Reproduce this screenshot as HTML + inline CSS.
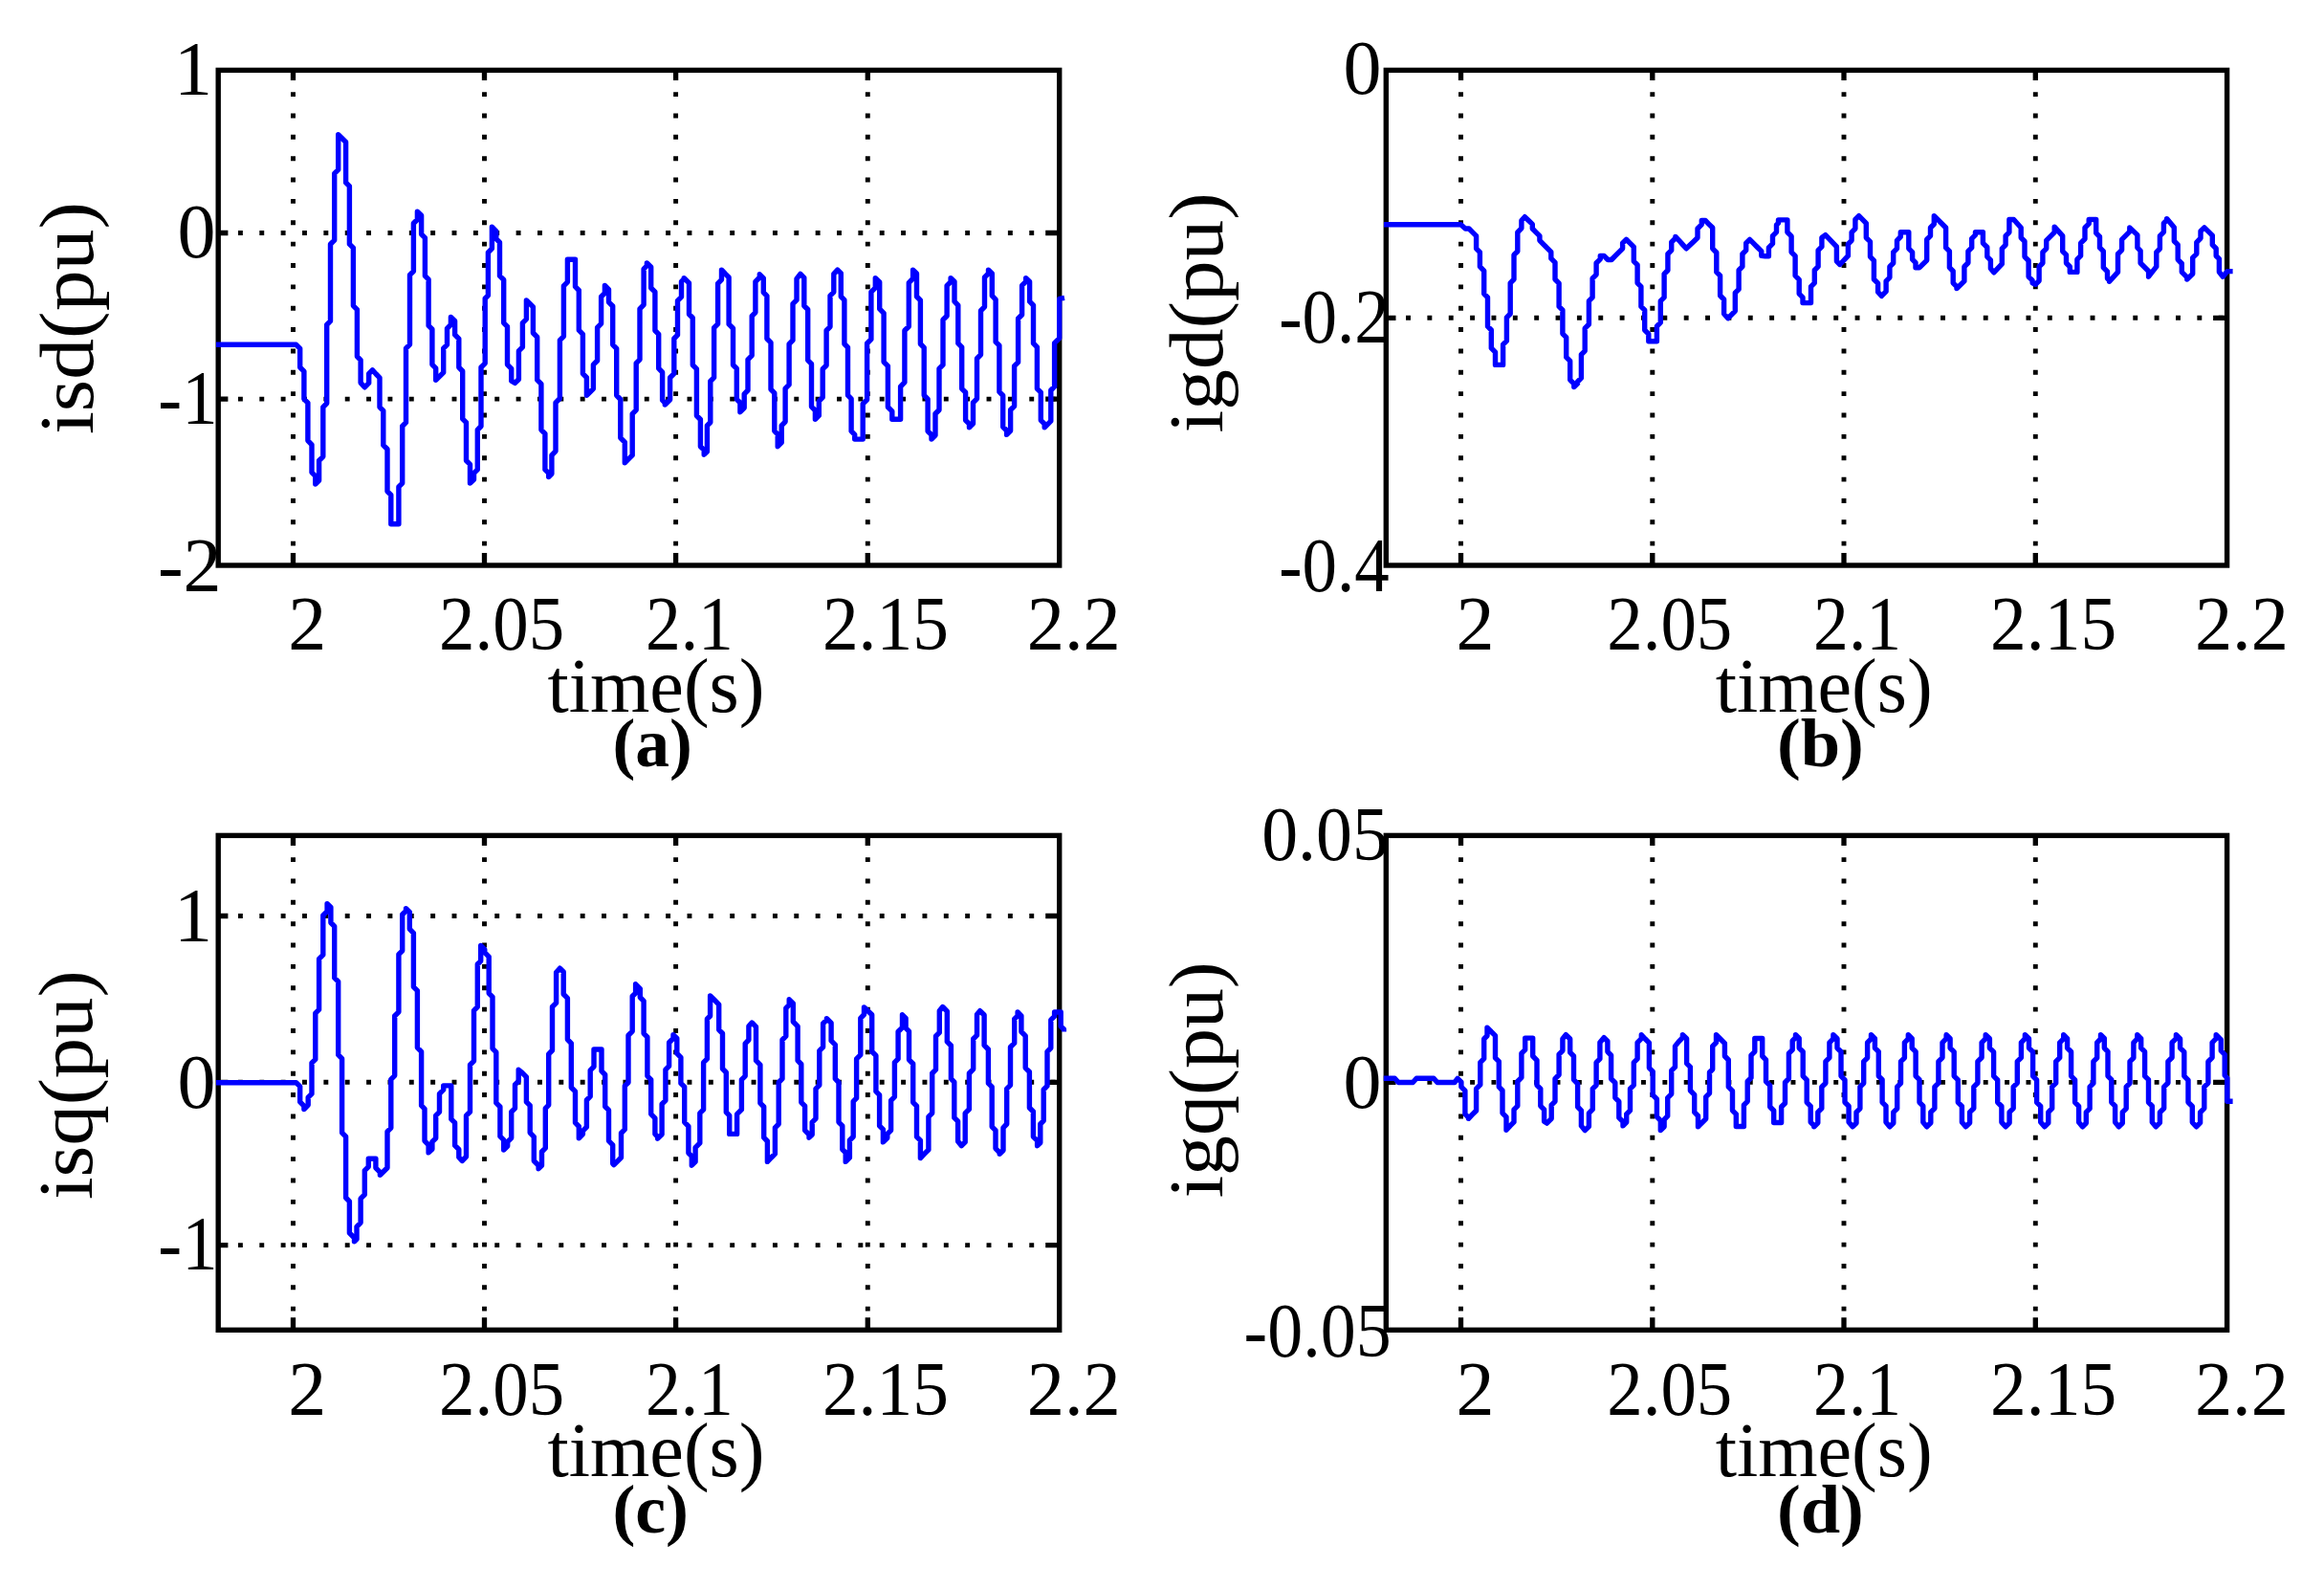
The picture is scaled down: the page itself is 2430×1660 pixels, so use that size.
<!DOCTYPE html><html><head><meta charset="utf-8"><title>dq currents</title>
<style>html,body{margin:0;padding:0;background:#fff}svg{display:block}text{font-family:"Liberation Serif","DejaVu Serif",serif;fill:#000}</style></head><body>
<svg width="2430" height="1660" viewBox="0 0 2430 1660">
<rect width="2430" height="1660" fill="#fff"/>
<g id="plot-a">
<path d="M306.5 98.6 V579.0 M506.5 98.6 V579.0 M706.6 98.6 V579.0 M907.3 98.6 V579.0 M251.4 243.5 H1104.7 M251.4 417.1 H1104.7" fill="none" stroke="#000" stroke-width="4.9" stroke-linecap="square" stroke-dasharray="0.01 22.35"/>
<path d="M306.5 73.4 v10.5 M306.5 591.0 v-13.0 M506.5 73.4 v10.5 M506.5 591.0 v-13.0 M706.6 73.4 v10.5 M706.6 591.0 v-13.0 M907.3 73.4 v10.5 M907.3 591.0 v-13.0 M228.2 243.5 h10.2 M1107.7 243.5 h-14.5 M228.2 417.1 h10.2 M1107.7 417.1 h-14.5" fill="none" stroke="#000" stroke-width="5.3"/>
<rect x="228.2" y="73.4" width="879.5" height="517.6" fill="none" stroke="#000" stroke-width="5.4"/>
<path d="M226.0 360.3L309.7 360.3L313.7 364.3V384.0L317.9 388.1V417.1L321.9 421.1V460.6L326.0 464.8V493.8L329.8 497.6V506.1L333.6 502.3V481.5L337.8 477.3V425.6L341.7 421.6V339.5L345.5 335.7V255.2L349.7 251.1V181.4L353.7 177.4V140.7L357.6 144.5L361.6 148.5V190.9L365.4 194.7V255.2L369.4 259.2V319.6L373.4 323.6V372.6L377.1 376.4V400.1L381.3 404.8L385.7 400.4V390.6L389.4 386.8L393.2 391.0L397.0 394.8V425.6L400.8 429.4V465.4L405.0 469.5V513.6L408.8 517.4V547.7L412.7 547.7H416.9V508.9L420.7 505.1V445.5L424.5 441.7V364.1L428.5 360.1V287.4L432.4 283.5V233.5L436.4 229.5V221.2L440.6 225.3V244.8L444.4 248.6V288.4L448.1 292.2V340.4L451.9 344.2V381.1L455.7 384.9V397.2L459.7 393.4L463.7 389.4V364.1L467.5 360.3V343.3L471.4 339.3V331.4L475.6 335.5V349.9L479.8 354.1V384.0L483.7 388.0V437.9L487.5 441.7V481.5L491.5 485.4V505.1L495.5 501.2V494.7L499.3 490.9V449.3L503.0 445.5V384.0L507.2 379.8V312.0L510.4 308.8V263.8L514.4 259.8V237.3L518.8 241.6V249.6L522.5 253.4V288.4L526.7 292.5V337.6L530.5 341.4V381.1L534.7 385.3V398.2L538.5 400.4L542.4 396.5V366.9L546.4 362.9V337.6L550.4 333.6V313.9L554.2 317.7L557.4 320.9V348.0L561.7 352.4V397.2L565.9 401.4V449.3L569.9 453.3V490.9L573.7 494.7V498.5L576.9 495.3V475.8L581.0 471.6V420.9L585.4 416.5V355.6L589.4 351.6V298.8L593.4 294.8V271.3L597.3 271.3H601.5V299.7L605.3 303.5V345.2L609.4 349.3V390.6L613.4 394.6V413.3L617.2 409.5L620.4 406.3V381.1L624.6 377.0V342.3L628.6 338.3V310.2L632.4 306.4V298.4L636.5 302.6V315.8L640.7 320.0V360.3L644.7 364.3V413.3L648.8 417.5V457.8L653.3 462.2V483.7L657.2 479.9L661.2 475.9V432.6L665.2 428.6V379.6L669.0 375.8V322.8L673.1 318.6V281.1L676.4 277.9V274.9L680.7 279.2V301.0L684.9 305.2V345.5L688.7 349.3V385.2L692.6 389.2V418.4L695.3 421.0V423.1L700.6 417.8V394.7L704.8 390.6V354.0L708.5 350.2V314.3L712.5 310.3V294.4L715.2 291.7V290.6L720.5 295.9V328.5L724.3 332.2V381.5L728.4 385.6V434.5L732.4 438.5V466.7L736.2 470.4V475.2L739.4 472.0V444.9L742.8 441.5V398.5L746.6 394.7V342.7L750.6 338.7V296.3L754.5 292.3V282.1L758.3 286.2L762.1 290.0V338.9L766.5 343.2V381.5L770.3 385.2V417.4L773.9 421.0V430.7L778.2 426.3V411.8L782.0 408.0V375.8L786.2 371.6V330.3L789.9 326.6V294.4L794.3 290.0V286.8L798.3 290.8V305.7L801.9 309.3V354.0L806.0 358.2V407.0L809.8 410.8V450.6L813.2 454.0V466.7L817.2 462.7V444.8L821.1 440.8V406.2L825.1 402.2V359.7L829.0 355.7V317.7L833.0 313.7V291.4L836.9 286.4L840.8 290.3V319.7L844.7 323.5V376.6L848.5 380.4V425.1L852.4 429.0V438.3L856.3 434.4V419.3L860.2 415.4V385.8L864.1 382.0V345.5L868.0 341.6V309.1L871.8 305.3V286.4L875.7 282.1L879.3 285.7V310.0L882.9 313.6V359.5L886.5 363.1V413.2L890.1 416.8V450.7L893.7 454.3V459.1L897.9 459.1H902.2V422.2L906.6 417.8V359.0L910.9 354.7V305.2L915.3 300.8V290.6L919.7 295.0V322.9L924.1 327.3V378.3L928.4 382.6V425.5L932.8 429.9V438.3L937.3 438.3H941.6V404.1L945.9 399.7V345.5L950.3 341.2V295.6L954.6 291.2V282.1L958.5 285.9V310.0L962.4 313.9V359.5L966.2 363.4V413.2L970.1 417.1V450.7L974.0 454.5V459.1L978.0 455.1V432.5L982.0 428.5V385.4L986.0 381.4V334.2L990.1 330.2V298.6L994.1 294.6V290.6L998.0 294.5V315.2L1001.8 319.1V358.9L1005.7 362.8V406.3L1009.6 410.2V439.3L1013.5 443.2V446.8L1017.5 442.8V420.8L1021.5 416.8V374.7L1025.5 370.8V324.7L1029.5 320.8V289.9L1033.5 285.9V282.1L1037.3 285.9V309.2L1041.1 313.1V357.4L1044.9 361.2V409.7L1048.7 413.5V446.2L1052.6 450.0V454.4L1056.6 450.3V428.5L1060.6 424.5V382.7L1064.6 378.7V333.0L1068.6 329.0V298.4L1072.7 294.4V290.6L1076.6 294.5V315.2L1080.5 319.1V358.9L1084.4 362.8V406.3L1088.3 410.2V439.3L1092.2 443.2V446.8L1098.8 440.2V408.0L1102.6 404.2V358.7L1107.7 353.6V312.4L1113.0 311.4" fill="none" stroke="#00f" stroke-width="5.4" stroke-linejoin="round" stroke-linecap="butt"/>
</g>
<g id="plot-b">
<path d="M1527.5 98.6 V579.0 M1727.8 98.6 V579.0 M1928.0 98.6 V579.0 M2128.3 98.6 V579.0 M1472.5 332.3 H2325.6" fill="none" stroke="#000" stroke-width="4.9" stroke-linecap="square" stroke-dasharray="0.01 22.35"/>
<path d="M1527.5 73.4 v10.5 M1527.5 591.0 v-13.0 M1727.8 73.4 v10.5 M1727.8 591.0 v-13.0 M1928.0 73.4 v10.5 M1928.0 591.0 v-13.0 M2128.3 73.4 v10.5 M2128.3 591.0 v-13.0 M1449.3 332.3 h10.2 M2328.6 332.3 h-14.5" fill="none" stroke="#000" stroke-width="5.3"/>
<rect x="1449.3" y="73.4" width="879.3" height="517.6" fill="none" stroke="#000" stroke-width="5.4"/>
<path d="M1447.0 234.8L1527.5 234.8L1532.2 239.0L1536.0 239.0L1539.8 242.8L1543.6 246.6V259.8L1547.4 263.6V278.7L1551.7 283.1V307.1L1555.5 310.9V341.2L1559.3 345.0V363.9L1563.5 368.1V381.4L1567.6 381.4H1571.6V360.2L1575.4 356.4V331.8L1579.2 328.0V295.8L1583.0 292.0V266.4L1586.8 262.7V242.8L1590.9 238.6V230.5L1594.3 226.7L1598.3 230.5L1602.3 234.4V239.0L1606.1 242.8L1609.9 246.6V251.3L1613.8 255.3L1617.8 259.4L1621.8 263.4V270.2L1626.0 274.4V292.0L1630.1 296.2V320.4L1633.9 324.2V348.8L1637.7 352.6V373.4L1641.7 377.4V397.1L1645.8 401.2V404.6L1649.6 400.9V399.0L1653.4 395.2V370.6L1657.2 366.8V343.1L1661.4 339.0V314.7L1665.1 310.9V291.0L1669.1 287.1V275.0L1673.3 270.8V267.4L1677.1 267.4L1681.2 271.5L1685.0 271.5L1688.8 267.6L1692.8 263.6L1696.6 259.8V254.1L1700.4 250.3L1704.3 254.1L1708.3 258.1V273.1L1712.1 276.9V295.8L1715.9 299.6V320.4L1719.7 324.2V345.0L1723.8 349.2V356.7L1728.2 356.7H1732.4V341.2L1736.3 337.2V314.7L1740.1 310.9V286.3L1743.9 282.5V265.5L1747.7 261.7V253.2L1751.9 249.0V247.5L1755.6 251.3L1759.4 255.6L1763.2 259.8L1767.2 256.0L1771.2 252.2L1775.0 248.5V239.0L1779.3 234.6V230.5L1783.1 230.5L1786.9 234.3L1790.7 238.0V259.8L1794.8 264.0V284.4L1798.6 288.2V309.0L1802.6 313.0V328.0L1806.8 332.7L1810.6 328.9L1814.3 325.1V306.2L1818.1 302.4V282.5L1821.9 278.7V265.5L1825.7 261.7V254.1L1829.5 250.3L1833.5 254.3L1837.6 258.5L1841.8 262.7V267.4L1845.6 267.8H1849.4V258.9L1853.5 254.7V246.6L1857.5 242.6V235.2L1859.5 233.2V229.9L1867.0 229.9H1868.9V242.8L1873.1 246.9V263.6L1877.1 267.6V288.2L1881.2 292.4V307.1L1885.0 310.9V316.6L1889.4 316.6H1893.5V299.6L1897.3 295.8V282.5L1901.1 278.7V261.7L1904.9 257.9V248.5L1908.7 245.6L1920.4 257.9V273.1L1923.8 276.5L1932.4 267.4V255.1L1936.1 251.3V242.8L1939.9 239.0V229.5L1943.7 225.7L1951.3 233.3V248.5L1955.5 252.6V268.3L1959.4 272.3V292.0L1963.6 296.2V305.2L1967.4 309.4L1972.1 304.7V293.9L1975.9 290.1V278.7L1979.7 275.0V263.6L1983.5 259.8V251.3L1987.3 247.5V242.8L1992.0 242.8H1995.8V259.8L1999.6 263.6V271.2L2003.0 274.6V279.7L2007.1 279.7L2014.7 272.1V268.3V250.3L2018.5 246.6V238.0L2022.3 234.3V225.7L2034.6 238.0V258.9L2038.4 262.7V279.7L2042.2 283.5V295.8L2046.0 299.6V301.5L2053.9 293.9V278.7L2057.9 274.8V262.7L2061.7 258.9V249.4L2065.5 245.6V242.8L2071.5 242.8H2073.4V254.1L2077.8 258.5V268.3L2081.4 271.9V280.6L2084.8 284.8L2093.3 275.9V259.8L2097.1 256.0V246.6L2100.9 242.8V229.5L2105.6 229.5L2113.2 238.0V248.5L2117.0 252.2V268.3L2121.1 272.5V289.2L2125.1 293.1V295.8L2128.3 297.3L2132.1 293.5V278.7L2135.9 275.0V263.6L2139.7 259.8V251.3L2148.2 242.8V237.1L2156.7 246.6V262.7L2160.5 266.4V275.0L2164.3 278.7V284.4L2169.0 284.4H2171.9V271.2L2175.6 267.4V254.1L2180.0 249.8V238.0L2184.2 233.9V229.5L2188.9 229.5H2191.7V243.7L2195.5 247.5V258.9L2199.3 262.7V279.7L2203.5 283.9V291.0L2205.6 293.1V294.3L2214.5 284.4V265.5L2218.6 261.3V250.3L2226.8 242.2V238.0L2234.9 245.6V258.9L2238.1 262.1V275.0L2246.6 283.5V289.2L2254.8 278.7V263.6L2258.4 260.0V246.6L2262.4 242.6V233.3L2265.6 230.1V228.6L2273.3 237.8V252.0L2277.2 255.9V271.3L2281.3 275.5V284.3L2286.8 289.8V292.0L2292.7 286.2V280.4V269.4L2296.8 265.3V253.3L2301.0 249.0V241.7L2304.9 237.8L2313.3 246.2V255.9L2317.2 259.7V267.5L2320.4 270.7V284.3L2324.3 289.2L2328.8 283.6L2334.6 283.6" fill="none" stroke="#00f" stroke-width="5.4" stroke-linejoin="round" stroke-linecap="butt"/>
</g>
<g id="plot-c">
<path d="M306.5 898.6 V1378.3 M506.5 898.6 V1378.3 M706.6 898.6 V1378.3 M907.3 898.6 V1378.3 M251.4 957.5 H1104.7 M251.4 1131.3 H1104.7 M251.4 1301.6 H1104.7" fill="none" stroke="#000" stroke-width="4.9" stroke-linecap="square" stroke-dasharray="0.01 22.35"/>
<path d="M306.5 873.4 v10.5 M306.5 1390.3 v-13.0 M506.5 873.4 v10.5 M506.5 1390.3 v-13.0 M706.6 873.4 v10.5 M706.6 1390.3 v-13.0 M907.3 873.4 v10.5 M907.3 1390.3 v-13.0 M228.2 957.5 h10.2 M1107.7 957.5 h-14.5 M228.2 1131.3 h10.2 M1107.7 1131.3 h-14.5 M228.2 1301.6 h10.2 M1107.7 1301.6 h-14.5" fill="none" stroke="#000" stroke-width="5.3"/>
<rect x="228.2" y="873.4" width="879.5" height="516.9" fill="none" stroke="#000" stroke-width="5.4"/>
<path d="M226.0 1131.7L309.7 1131.7L313.7 1135.6V1151.9L317.9 1156.1V1159.5L322.2 1155.1V1147.2L326.0 1143.4V1111.2L329.8 1107.4V1059.2L333.6 1055.4V1002.4L337.8 998.2V956.9L342.1 952.6V944.6L345.9 948.4V964.5L349.7 968.3V1022.2L353.7 1026.2V1102.7L357.6 1106.7V1184.1L361.6 1188.1V1252.0L365.4 1255.8V1288.9L370.5 1294.0V1297.8L373.0 1295.4V1282.3L377.1 1278.1V1252.9L381.3 1248.8V1223.6L385.3 1219.6V1211.3L389.1 1211.3H392.9V1220.8L397.4 1225.3V1228.3L401.2 1224.5L405.0 1220.8V1182.9L408.8 1179.1V1128.3L412.7 1124.3V1062.0L416.9 1057.8V997.6L420.7 993.8V956.0L424.5 952.2V949.7L428.3 953.5V971.1L432.4 975.3V1031.7L436.4 1035.7V1095.1L440.6 1099.3V1155.7L444.0 1159.1V1192.6L448.1 1196.8V1204.9L451.9 1201.2V1193.6L455.7 1189.8V1166.1L459.5 1162.3V1143.4L463.7 1139.2V1134.9L467.6 1134.9H471.8V1169.9L475.6 1173.7V1197.4L479.8 1201.5V1209.7L483.2 1213.5L487.5 1209.1V1166.1L491.5 1162.2V1113.1L495.5 1109.1V1056.3L499.3 1052.5V1008.0L502.7 1004.6V988.5L506.8 992.7V995.7L511.2 1000.1V1038.3L515.0 1042.1V1096.1L518.8 1099.9V1152.9L522.9 1157.0V1187.9L526.7 1191.7V1202.1L530.7 1198.1V1193.6L534.7 1189.6V1162.3L538.5 1158.6V1133.9L542.2 1130.2V1118.2L546.2 1121.6L550.4 1125.8V1151.9L554.2 1155.7V1184.1L558.3 1188.3V1213.5L563.1 1218.2V1221.7L566.5 1218.3V1204.0L570.3 1200.2V1158.6L573.7 1155.1V1101.8L577.5 1098.0V1052.5L581.6 1048.4V1016.6L585.4 1012.2L589.2 1016.0V1039.3L593.4 1043.4V1086.6L597.3 1090.6V1136.8L601.5 1140.9V1173.7L605.3 1177.5V1189.8L609.4 1185.6V1182.2L613.4 1178.2V1150.0L617.2 1146.2V1118.8L621.0 1115.0V1097.0L625.2 1097.0H629.0V1119.7L632.7 1123.5V1156.7L636.5 1160.4V1192.6L640.7 1196.8V1216.3L641.9 1217.6L645.7 1213.8L649.5 1210.0V1184.5L653.3 1180.7V1135.2L657.0 1131.5V1082.2L661.2 1078.1V1041.5L664.6 1038.1V1028.8L669.3 1033.6V1042.5L673.1 1046.3V1080.3L676.9 1084.1V1124.8L680.7 1128.6V1164.6L684.9 1168.8V1185.4L687.7 1188.3V1190.2L692.1 1185.8V1154.2L695.9 1150.4V1118.2L699.6 1114.4V1089.8L704.0 1085.5V1081.7L707.8 1085.5V1101.2L711.9 1105.3V1132.4L715.7 1136.2V1173.1L719.9 1177.3V1205.3L723.3 1208.7V1218.2L727.1 1214.4V1199.6L731.8 1194.9V1163.6L735.6 1159.9V1110.6L739.4 1106.9V1065.2L742.6 1062.0V1041.0L747.0 1045.3L751.7 1050.1V1076.6L755.5 1080.3V1117.3L759.3 1121.0V1162.7L762.7 1166.1V1185.4L766.9 1185.4H770.6V1164.6L775.4 1159.9V1128.6L779.2 1124.8V1090.8L782.9 1087.0V1072.8L786.2 1069.0L790.5 1073.3V1108.7L794.9 1113.1V1153.2L798.7 1157.0V1189.2L802.4 1193.0V1214.4L806.6 1210.0L810.4 1206.2V1178.8L814.2 1175.0V1131.5L818.0 1127.7V1087.0L821.8 1083.2V1053.8L825.2 1050.4V1044.8L829.3 1048.9V1068.0L834.1 1072.8V1108.7L837.8 1112.5V1152.3L841.6 1156.1V1181.6L846.0 1186.0V1189.2L849.2 1186.0V1173.1L853.0 1169.3V1138.1L856.8 1134.3V1098.3L860.6 1094.5V1069.9L864.4 1066.1V1064.6L869.1 1069.4V1087.9L873.3 1092.1V1127.7L877.0 1131.5V1173.1L880.8 1176.9V1201.5L884.2 1204.9V1214.4L888.4 1210.2V1192.0L892.2 1188.3V1151.3L895.6 1147.9V1106.9L899.8 1102.7V1064.3L903.5 1060.5V1052.9L907.5 1056.7L911.7 1060.8V1099.3L915.9 1103.4V1140.9L919.6 1144.7V1176.9L923.4 1180.7V1193.9L927.8 1189.6V1185.4L931.6 1181.6V1150.4L935.4 1146.6V1110.6L939.1 1106.9V1078.5L943.5 1074.1V1060.8L947.1 1064.4V1074.7L950.5 1078.1V1107.8L954.7 1112.0V1152.3L958.5 1156.1V1188.3L962.4 1192.2V1210.6L966.6 1206.2L970.9 1201.9V1167.4L974.7 1163.6V1122.0L978.5 1118.2V1083.2L982.3 1079.4V1056.7L985.7 1052.5L990.3 1057.1V1088.9L994.4 1093.0V1127.7L997.8 1131.1V1168.4L1001.6 1172.2V1193.0L1005.4 1197.7L1009.2 1193.9V1163.6L1013.4 1159.5V1122.0L1017.7 1117.6V1086.0L1021.5 1082.2V1060.5L1024.7 1056.7L1029.1 1061.0V1092.7L1033.4 1097.0V1132.4L1037.2 1136.2V1177.8L1041.0 1181.6V1200.6L1045.2 1204.7V1206.2L1049.0 1202.5V1178.8L1052.7 1175.0V1138.1L1056.5 1134.3V1094.5L1060.7 1090.4V1065.2L1064.1 1061.8V1058.0L1067.9 1061.8V1078.5L1072.2 1082.8V1116.3L1076.4 1120.5V1158.0L1080.4 1162.0V1188.3L1084.6 1192.4V1197.7L1087.8 1194.5V1175.0L1091.2 1171.6V1139.0L1095.0 1135.2V1099.3L1098.8 1095.5V1066.1L1102.6 1062.4V1058.0L1106.7 1058.0H1109.2V1072.8L1112.4 1076.0V1078.5" fill="none" stroke="#00f" stroke-width="5.4" stroke-linejoin="round" stroke-linecap="butt"/>
</g>
<g id="plot-d">
<path d="M1527.5 898.6 V1378.3 M1727.8 898.6 V1378.3 M1928.0 898.6 V1378.3 M2128.3 898.6 V1378.3 M1472.5 1131.4 H2325.6" fill="none" stroke="#000" stroke-width="4.9" stroke-linecap="square" stroke-dasharray="0.01 22.35"/>
<path d="M1527.5 873.4 v10.5 M1527.5 1390.3 v-13.0 M1727.8 873.4 v10.5 M1727.8 1390.3 v-13.0 M1928.0 873.4 v10.5 M1928.0 1390.3 v-13.0 M2128.3 873.4 v10.5 M2128.3 1390.3 v-13.0 M1449.3 1131.4 h10.2 M2328.6 1131.4 h-14.5" fill="none" stroke="#000" stroke-width="5.3"/>
<rect x="1449.3" y="873.4" width="879.3" height="516.9" fill="none" stroke="#000" stroke-width="5.4"/>
<path d="M1446.8 1127.3L1448.9 1127.3L1458.4 1127.3L1462.2 1131.5L1477.3 1131.5L1481.1 1127.3L1499.1 1127.3L1502.9 1131.5L1520.9 1131.5L1524.1 1127.3L1527.9 1131.1V1136.2L1531.9 1140.2V1164.6L1535.5 1168.2V1169.3L1539.4 1165.2L1543.6 1161.0V1138.1L1547.8 1133.9V1110.6L1551.7 1106.7V1086.0L1555.0 1082.8V1074.1L1559.3 1078.5L1563.5 1082.6V1105.9L1567.3 1109.7V1136.2L1571.0 1140.0V1163.6L1575.0 1167.6V1181.3L1579.0 1176.9L1583.0 1172.9V1159.9L1586.8 1156.1V1130.5L1590.9 1126.4V1101.2L1594.7 1097.4V1085.1L1599.1 1085.1H1602.7V1104.0L1607.0 1108.4V1134.3L1610.8 1138.1V1156.1L1614.6 1159.9V1172.2L1617.4 1174.1L1622.2 1169.3V1155.1L1626.0 1151.3V1127.7L1630.1 1123.5V1102.1L1633.9 1098.3V1086.0L1637.3 1081.7L1641.7 1086.0V1100.2L1645.5 1104.0V1128.6L1649.6 1132.8V1157.0L1653.4 1160.8V1176.9L1657.2 1181.6L1661.4 1177.5V1163.6L1665.3 1159.7V1138.1L1669.1 1134.3V1110.6L1672.9 1106.9V1089.8L1677.1 1084.7L1680.9 1088.5V1099.3L1684.6 1103.1V1127.7L1688.8 1131.8V1147.6L1692.8 1151.5V1168.4L1697.0 1172.5V1176.9L1700.7 1173.1V1164.6L1704.5 1160.8V1138.1L1708.3 1134.3V1110.6L1712.1 1106.9V1089.8L1716.3 1085.6V1081.7L1720.2 1086.0L1724.4 1090.2V1116.3L1728.2 1120.1V1144.7L1732.4 1148.9V1167.4L1736.3 1171.4V1181.6L1740.1 1177.8V1170.3L1743.7 1166.7V1147.6L1747.7 1143.6V1119.2L1751.5 1115.4V1093.6L1755.3 1088.9L1759.4 1084.7V1081.7L1763.6 1085.8V1111.6L1767.4 1115.4V1140.0L1771.7 1144.3V1162.7L1775.5 1166.5V1177.8L1779.7 1173.5L1783.7 1169.5V1146.6L1787.5 1142.8V1121.0L1790.7 1117.8V1093.6L1794.5 1089.8V1081.7L1798.8 1086.0L1803.4 1090.6V1104.0L1807.3 1108.0V1136.2L1811.5 1140.4V1160.8L1815.3 1164.6V1177.5L1819.6 1177.5H1823.4V1155.1L1827.2 1151.3V1130.5L1831.0 1126.7V1103.1L1834.8 1099.3V1085.5L1839.0 1085.5H1842.7V1104.0L1846.5 1107.8V1130.5L1850.7 1134.7V1157.0L1854.7 1161.0V1173.5L1858.8 1173.5H1862.6V1157.0L1866.5 1153.2V1131.5L1870.4 1127.5V1101.2L1874.2 1097.4V1087.9L1877.5 1084.7V1081.7L1881.2 1085.5V1095.5L1885.2 1099.5V1124.8L1889.2 1128.8V1152.3L1893.2 1156.3V1173.1L1896.8 1176.7V1177.8L1900.8 1173.8V1162.7L1904.8 1158.7V1136.2L1908.9 1132.2V1109.7L1912.9 1105.7V1089.8L1916.9 1085.8V1081.7L1921.0 1085.7V1095.5L1925.0 1099.5V1124.8L1929.0 1128.9V1152.3L1933.1 1156.3V1173.1L1937.1 1177.8L1941.0 1174.0V1162.7L1944.9 1158.8V1136.2L1948.7 1132.3V1109.7L1952.6 1105.8V1089.8L1956.5 1085.9V1081.7L1960.4 1085.6V1095.5L1964.3 1099.4V1124.8L1968.1 1128.7V1152.3L1972.0 1156.2V1173.1L1975.9 1177.8L1979.8 1174.0V1162.7L1983.7 1158.8V1136.2L1987.5 1132.3V1109.7L1991.4 1105.8V1089.8L1995.3 1085.9V1081.7L1999.2 1085.6V1095.5L2003.1 1099.4V1124.8L2007.0 1128.7V1152.3L2010.8 1156.2V1173.1L2014.7 1177.8L2018.8 1173.8V1162.7L2022.9 1158.6V1136.2L2026.9 1132.1V1109.7L2031.0 1105.6V1089.8L2035.1 1085.7V1081.7L2039.1 1085.7V1095.5L2043.2 1099.6V1124.8L2047.3 1128.9V1152.3L2051.4 1156.4V1173.1L2055.4 1177.8L2059.6 1173.7V1162.7L2063.8 1158.5V1136.2L2067.9 1132.0V1109.7L2072.1 1105.5V1089.8L2076.2 1085.6V1081.7L2080.4 1085.8V1095.5L2084.6 1099.7V1124.8L2088.7 1129.0V1152.3L2092.9 1156.5V1173.1L2097.1 1177.8L2101.1 1173.8V1162.7L2105.2 1158.6V1136.2L2109.3 1132.1V1109.7L2113.4 1105.6V1089.8L2117.4 1085.7V1081.7L2121.5 1085.7V1095.5L2125.6 1099.6V1124.8L2129.6 1128.9V1152.3L2133.7 1156.4V1173.1L2137.8 1177.8L2141.8 1173.9V1162.7L2145.7 1158.7V1136.2L2149.7 1132.2V1109.7L2153.7 1105.7V1089.8L2157.7 1085.8V1081.7L2161.6 1085.6V1095.5L2165.6 1099.5V1124.8L2169.6 1128.8V1152.3L2173.6 1156.3V1173.1L2177.5 1177.8L2181.3 1174.1V1162.7L2185.1 1158.9V1136.2L2188.9 1132.4V1109.7L2192.7 1105.9V1089.8L2196.5 1086.0V1081.7L2200.3 1085.5V1095.5L2204.0 1099.3V1124.8L2207.8 1128.6V1152.3L2211.6 1156.1V1173.1L2215.4 1177.8L2219.3 1174.0V1162.7L2223.2 1158.8V1136.2L2227.0 1132.3V1109.7L2230.9 1105.8V1089.8L2234.8 1085.9V1081.7L2238.7 1085.6V1095.5L2242.6 1099.4V1124.8L2246.5 1128.7V1152.3L2250.3 1156.2V1173.1L2254.2 1177.8L2258.4 1173.6V1162.7L2262.7 1158.5V1136.2L2266.9 1132.0V1109.7L2271.1 1105.5V1089.8L2275.4 1085.6V1081.7L2279.6 1085.9V1095.5L2283.8 1099.7V1124.8L2288.0 1129.1V1152.3L2292.3 1156.5V1173.1L2296.5 1177.8L2300.6 1173.7V1162.7L2304.8 1158.6V1136.2L2308.9 1132.1V1109.7L2313.1 1105.6V1089.8L2317.2 1085.7V1081.7L2322.3 1086.8V1098.4L2326.2 1102.3V1124.2L2328.8 1126.8V1151.3L2334.6 1151.3" fill="none" stroke="#00f" stroke-width="5.4" stroke-linejoin="round" stroke-linecap="butt"/>
</g>
<text x="321.3" y="679.1" font-size="80" text-anchor="middle">2</text>
<text x="524.6" y="679.1" font-size="80" text-anchor="middle" textLength="131.0" lengthAdjust="spacingAndGlyphs">2.05</text>
<text x="720.9" y="679.1" font-size="80" text-anchor="middle" textLength="92.0" lengthAdjust="spacingAndGlyphs">2.1</text>
<text x="925.9" y="679.1" font-size="80" text-anchor="middle" textLength="132.0" lengthAdjust="spacingAndGlyphs">2.15</text>
<text x="1122.7" y="679.1" font-size="80" text-anchor="middle" textLength="98.0" lengthAdjust="spacingAndGlyphs">2.2</text>
<text x="686.0" y="743.6" font-size="80" text-anchor="middle" textLength="227.0" lengthAdjust="spacingAndGlyphs">time(s)</text>
<text x="682.2" y="801.0" font-size="72" text-anchor="middle" textLength="83.5" lengthAdjust="spacingAndGlyphs" font-weight="bold">(a)</text>
<text x="1542.5" y="679.1" font-size="80" text-anchor="middle">2</text>
<text x="1745.8" y="679.1" font-size="80" text-anchor="middle" textLength="131.0" lengthAdjust="spacingAndGlyphs">2.05</text>
<text x="1942.1" y="679.1" font-size="80" text-anchor="middle" textLength="92.0" lengthAdjust="spacingAndGlyphs">2.1</text>
<text x="2147.1" y="679.1" font-size="80" text-anchor="middle" textLength="132.0" lengthAdjust="spacingAndGlyphs">2.15</text>
<text x="2343.9" y="679.1" font-size="80" text-anchor="middle" textLength="98.0" lengthAdjust="spacingAndGlyphs">2.2</text>
<text x="1907.2" y="743.6" font-size="80" text-anchor="middle" textLength="227.0" lengthAdjust="spacingAndGlyphs">time(s)</text>
<text x="1903.4" y="801.0" font-size="72" text-anchor="middle" textLength="91.0" lengthAdjust="spacingAndGlyphs" font-weight="bold">(b)</text>
<text x="321.3" y="1478.7" font-size="80" text-anchor="middle">2</text>
<text x="524.6" y="1478.7" font-size="80" text-anchor="middle" textLength="131.0" lengthAdjust="spacingAndGlyphs">2.05</text>
<text x="720.9" y="1478.7" font-size="80" text-anchor="middle" textLength="92.0" lengthAdjust="spacingAndGlyphs">2.1</text>
<text x="925.9" y="1478.7" font-size="80" text-anchor="middle" textLength="132.0" lengthAdjust="spacingAndGlyphs">2.15</text>
<text x="1122.7" y="1478.7" font-size="80" text-anchor="middle" textLength="98.0" lengthAdjust="spacingAndGlyphs">2.2</text>
<text x="686.0" y="1543.2" font-size="80" text-anchor="middle" textLength="227.0" lengthAdjust="spacingAndGlyphs">time(s)</text>
<text x="680.2" y="1602.0" font-size="72" text-anchor="middle" textLength="79.6" lengthAdjust="spacingAndGlyphs" font-weight="bold">(c)</text>
<text x="1542.5" y="1478.7" font-size="80" text-anchor="middle">2</text>
<text x="1745.8" y="1478.7" font-size="80" text-anchor="middle" textLength="131.0" lengthAdjust="spacingAndGlyphs">2.05</text>
<text x="1942.1" y="1478.7" font-size="80" text-anchor="middle" textLength="92.0" lengthAdjust="spacingAndGlyphs">2.1</text>
<text x="2147.1" y="1478.7" font-size="80" text-anchor="middle" textLength="132.0" lengthAdjust="spacingAndGlyphs">2.15</text>
<text x="2343.9" y="1478.7" font-size="80" text-anchor="middle" textLength="98.0" lengthAdjust="spacingAndGlyphs">2.2</text>
<text x="1907.2" y="1543.2" font-size="80" text-anchor="middle" textLength="227.0" lengthAdjust="spacingAndGlyphs">time(s)</text>
<text x="1903.4" y="1602.0" font-size="72" text-anchor="middle" textLength="91.0" lengthAdjust="spacingAndGlyphs" font-weight="bold">(d)</text>
<text x="222.0" y="99.1" font-size="80" text-anchor="end">1</text>
<text x="225.5" y="269.2" font-size="80" text-anchor="end">0</text>
<text x="227.5" y="442.9" font-size="80" text-anchor="end" textLength="62.2" lengthAdjust="spacingAndGlyphs">-1</text>
<text x="231.6" y="617.7" font-size="80" text-anchor="end">-2</text>
<text x="222.0" y="983.7" font-size="80" text-anchor="end">1</text>
<text x="225.5" y="1157.6" font-size="80" text-anchor="end">0</text>
<text x="227.5" y="1327.4" font-size="80" text-anchor="end" textLength="62.2" lengthAdjust="spacingAndGlyphs">-1</text>
<text x="1444.5" y="98.4" font-size="80" text-anchor="end">0</text>
<text x="1452.8" y="358.4" font-size="80" text-anchor="end" textLength="115.6" lengthAdjust="spacingAndGlyphs">-0.2</text>
<text x="1452.6" y="617.7" font-size="80" text-anchor="end" textLength="115.4" lengthAdjust="spacingAndGlyphs">-0.4</text>
<text x="1451.8" y="899.1" font-size="80" text-anchor="end" textLength="132.6" lengthAdjust="spacingAndGlyphs">0.05</text>
<text x="1444.5" y="1157.6" font-size="80" text-anchor="end">0</text>
<text x="1454.6" y="1417.7" font-size="80" text-anchor="end" textLength="154.0" lengthAdjust="spacingAndGlyphs">-0.05</text>
<text x="96.5" y="332.5" font-size="80" text-anchor="middle" textLength="243.0" lengthAdjust="spacingAndGlyphs" transform="rotate(-90 96.5 332.5)">isd(pu)</text>
<text x="96.5" y="1134.2" font-size="80" text-anchor="middle" textLength="239.5" lengthAdjust="spacingAndGlyphs" transform="rotate(-90 96.5 1134.2)">isq(pu)</text>
<text x="1278.5" y="326.9" font-size="80" text-anchor="middle" textLength="251.0" lengthAdjust="spacingAndGlyphs" transform="rotate(-90 1278.5 326.9)">igd(pu)</text>
<text x="1278.5" y="1128.7" font-size="80" text-anchor="middle" textLength="247.0" lengthAdjust="spacingAndGlyphs" transform="rotate(-90 1278.5 1128.7)">igq(pu)</text>
</svg></body></html>
